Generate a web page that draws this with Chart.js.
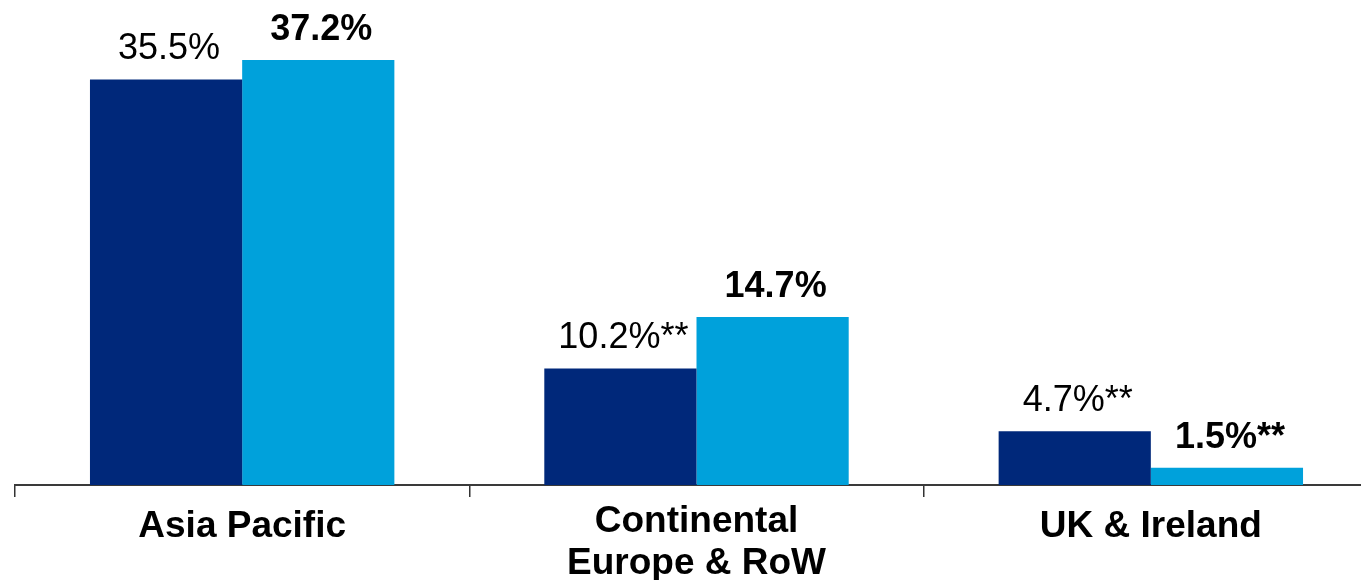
<!DOCTYPE html>
<html>
<head>
<meta charset="utf-8">
<script src="https://cdn.jsdelivr.net/npm/chart.js@4/dist/chart.umd.min.js"></script>
<style>
  html, body { margin: 0; padding: 0; background: #fff; overflow: hidden; }
  #clip { width: 1361px; height: 580px; overflow: hidden; position: relative; }
  #c { position: absolute; left: 0; top: 0; width: 1380px; height: 589px; }
</style>
</head>
<body>
<div id="clip"><canvas id="c" width="1380" height="589"></canvas></div>
<script>
const categories = [["Asia Pacific"], ["Continental", "Europe & RoW"], ["UK & Ireland"]];
const seriesA = [35.5, 10.2, 4.7];
const seriesB = [37.2, 14.7, 1.5];
const labelsA = ["35.5%", "10.2%**", "4.7%**"];
const labelsB = ["37.2%", "14.7%", "1.5%**"];

const FONT = "'Liberation Sans', Arial, sans-serif";

const valueLabels = {
  id: 'valueLabels',
  afterDatasetsDraw(chart) {
    const ctx = chart.ctx;
    const sets = [
      { idx: 0, texts: labelsA, weight: 'normal' },
      { idx: 1, texts: labelsB, weight: 'bold' }
    ];
    ctx.save();
    ctx.fillStyle = '#000';
    ctx.textAlign = 'center';
    ctx.textBaseline = 'alphabetic';
    sets.forEach(s => {
      const meta = chart.getDatasetMeta(s.idx);
      ctx.font = s.weight + ' 36px ' + FONT;
      meta.data.forEach((bar, i) => {
        ctx.fillText(s.texts[i], bar.x + 3, bar.y - 20);
      });
    });
    ctx.restore();
  }
};

new Chart(document.getElementById('c'), {
  type: 'bar',
  data: {
    labels: categories,
    datasets: [
      { data: seriesA, backgroundColor: '#00287A', borderWidth: 0 },
      { data: seriesB, backgroundColor: '#00A1DB', borderWidth: 0 }
    ]
  },
  options: {
    responsive: false,
    devicePixelRatio: 1,
    animation: false,
    layout: { padding: { left: 15, right: 2, top: 28, bottom: 0 } },
    plugins: { legend: { display: false }, tooltip: { enabled: false } },
    datasets: { bar: { categoryPercentage: 0.67, barPercentage: 1.0 } },
    scales: {
      x: {
        offset: true,
        grid: {
          display: true,
          drawOnChartArea: false,
          drawTicks: true,
          tickLength: 12,
          color: '#333',
          lineWidth: 1.5
        },
        border: { display: true, color: '#3a3a3a', width: 2 },
        ticks: {
          padding: 4,
          color: '#000',
          font: (ctx) => ({
            family: FONT,
            size: 37,
            weight: 'bold',
            lineHeight: (categories[ctx.index] && categories[ctx.index].length > 1) ? '42px' : '52px'
          })
        }
      },
      y: {
        display: false,
        min: 0,
        max: 40
      }
    }
  },
  plugins: [valueLabels]
});
</script>
</body>
</html>
